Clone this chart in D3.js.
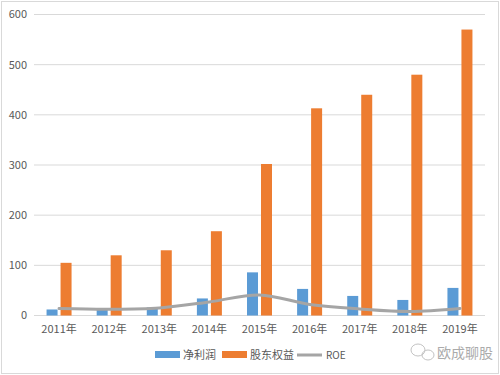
<!DOCTYPE html>
<html>
<head>
    <meta charset="utf-8">
    <script src="https://d3js.org/d3.v7.min.js"></script>
    <style>
        body { margin: 0; background: #fff; }
        text { font-family: "Noto Sans CJK SC", "Noto Sans", sans-serif; fill: #595959; }
    </style>
</head>
<body>
    <div id="chart"></div>
    <script>
        var years = ["2011年", "2012年", "2013年", "2014年", "2015年", "2016年", "2017年", "2018年", "2019年"];
        var netProfit = [12, 14, 16, 34, 86, 53, 39, 31, 55];
        var equity = [105, 120, 130, 168, 302, 413, 440, 480, 570];
        var roe = [14, 12.5, 15, 27, 41, 22, 13, 8, 14];
        var yTicks = [0, 100, 200, 300, 400, 500, 600];

        var width = 500, height = 375;
        var margin = {top: 15, right: 15, bottom: 60, left: 34};

        var svg = d3.select("#chart").append("svg")
            .attr("width", width)
            .attr("height", height);

        // outer frame
        svg.append("rect")
            .attr("x", 1.5).attr("y", 1.5)
            .attr("width", width - 3).attr("height", height - 3)
            .attr("fill", "none").attr("stroke", "#d9d9d9");

        var x = d3.scaleBand()
            .domain(years)
            .range([margin.left, width - margin.right]);

        var y = d3.scaleLinear()
            .domain([0, 600])
            .range([315.5, 14.5]);

        // gridlines
        svg.append("g").selectAll("line")
            .data(yTicks)
            .join("line")
            .attr("x1", margin.left).attr("x2", width - margin.right)
            .attr("y1", d => y(d)).attr("y2", d => y(d))
            .attr("stroke", "#d9d9d9").attr("stroke-width", 1);

        // y labels
        svg.append("g").selectAll("text")
            .data(yTicks)
            .join("text")
            .attr("x", 27).attr("y", d => y(d))
            .attr("dy", "0.35em")
            .attr("text-anchor", "end")
            .attr("font-size", 11)
            .text(d => d);

        var barW = 11, gap = 3;

        svg.append("g").selectAll("rect")
            .data(netProfit)
            .join("rect")
            .attr("x", (d, i) => x(years[i]) + x.bandwidth() / 2 - gap / 2 - barW)
            .attr("y", d => y(d))
            .attr("width", barW)
            .attr("height", d => y(0) - y(d))
            .attr("fill", "#5b9bd5");

        svg.append("g").selectAll("rect")
            .data(equity)
            .join("rect")
            .attr("x", (d, i) => x(years[i]) + x.bandwidth() / 2 + gap / 2)
            .attr("y", d => y(d))
            .attr("width", barW)
            .attr("height", d => y(0) - y(d))
            .attr("fill", "#ed7d31");

        var line = d3.line()
            .x((d, i) => x(years[i]) + x.bandwidth() / 2)
            .y(d => y(d))
            .curve(d3.curveCatmullRom.alpha(0.5));

        svg.append("path")
            .datum(roe)
            .attr("d", line)
            .attr("fill", "none")
            .attr("stroke", "#a5a5a5")
            .attr("stroke-width", 3)
            .attr("stroke-linecap", "round");

        // x labels
        svg.append("g").selectAll("text")
            .data(years)
            .join("text")
            .attr("x", d => x(d) + x.bandwidth() / 2)
            .attr("y", 333)
            .attr("text-anchor", "middle")
            .attr("font-size", 11)
            .text(d => d);

        // legend
        var legend = svg.append("g");
        legend.append("rect").attr("x", 155).attr("y", 351).attr("width", 25).attr("height", 7).attr("fill", "#5b9bd5");
        legend.append("text").attr("x", 183).attr("y", 359).attr("font-size", 11).text("净利润");
        legend.append("rect").attr("x", 222).attr("y", 351).attr("width", 25).attr("height", 7).attr("fill", "#ed7d31");
        legend.append("text").attr("x", 250).attr("y", 359).attr("font-size", 11).text("股东权益");
        legend.append("line").attr("x1", 297).attr("x2", 322).attr("y1", 355).attr("y2", 355)
            .attr("stroke", "#a5a5a5").attr("stroke-width", 3);
        legend.append("text").attr("x", 326).attr("y", 359).attr("font-size", 10).text("ROE");

        // watermark
        var wm = svg.append("g").attr("opacity", 0.7);
        wm.append("ellipse").attr("cx", 418).attr("cy", 350).attr("rx", 7).attr("ry", 6)
            .attr("fill", "none").attr("stroke", "#aaa").attr("stroke-width", 1);
        wm.append("ellipse").attr("cx", 428).attr("cy", 355).attr("rx", 6).attr("ry", 5)
            .attr("fill", "none").attr("stroke", "#aaa").attr("stroke-width", 1);
        wm.append("text").attr("x", 437).attr("y", 358).attr("font-size", 14)
            .style("fill", "#888").text("欧成聊股");
    </script>
</body>
</html>
